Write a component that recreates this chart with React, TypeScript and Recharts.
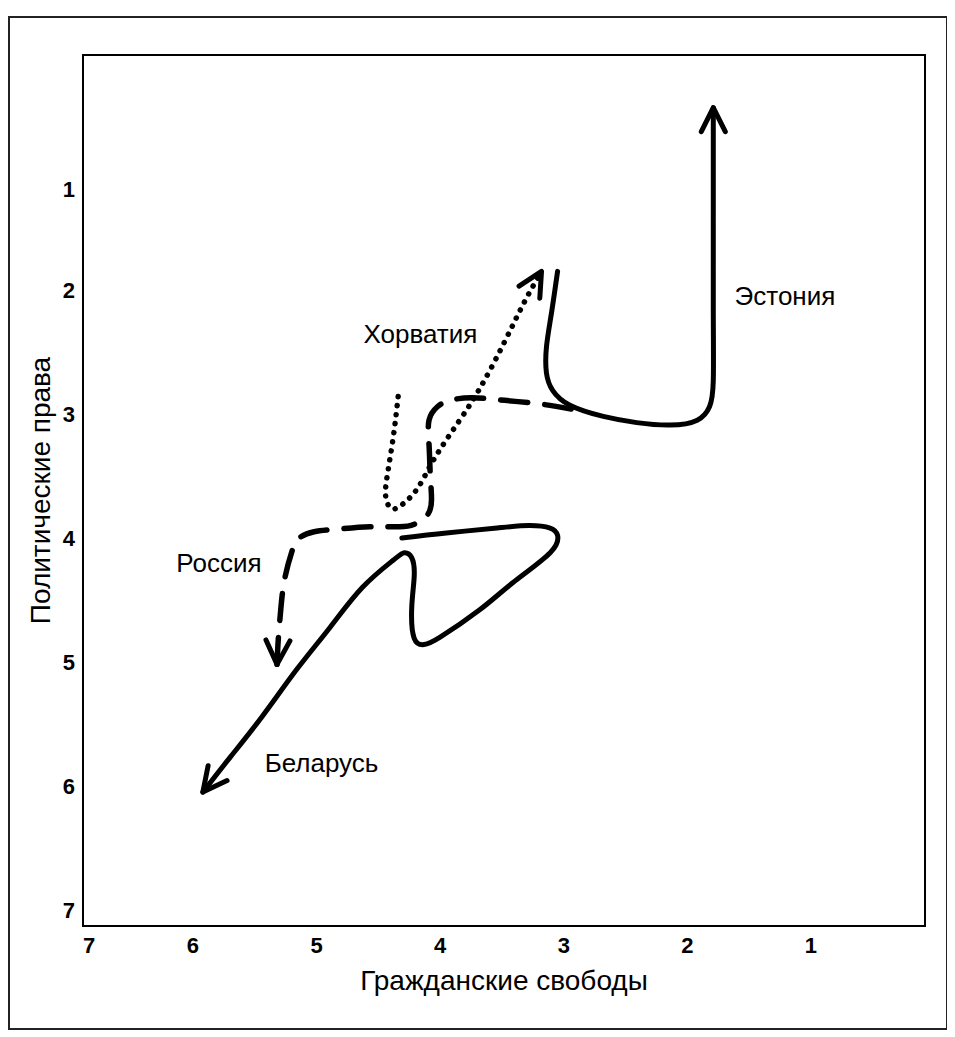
import { LineChart, Line, XAxis, YAxis, ReferenceArea, ReferenceDot } from 'recharts'

// Freedom House style trajectories: x = civil liberties, y = political rights (both reversed)
const estonia = [
  { x: 3.05, y: 1.85 }, { x: 3.1, y: 2.19 }, { x: 3.14, y: 2.46 }, { x: 3.14, y: 2.67 },
  { x: 3.09, y: 2.81 }, { x: 2.95, y: 2.93 }, { x: 2.68, y: 3.02 }, { x: 2.41, y: 3.07 },
  { x: 2.14, y: 3.09 }, { x: 1.92, y: 3.05 }, { x: 1.82, y: 2.94 }, { x: 1.79, y: 2.73 },
  { x: 1.79, y: 2.19 }, { x: 1.79, y: 1.38 }, { x: 1.79, y: 0.53 },
]

const croatia = [
  { x: 4.34, y: 2.86 }, { x: 4.38, y: 3.19 }, { x: 4.43, y: 3.51 }, { x: 4.44, y: 3.67 },
  { x: 4.4, y: 3.76 }, { x: 4.32, y: 3.74 }, { x: 4.19, y: 3.61 }, { x: 4.07, y: 3.4 },
  { x: 3.91, y: 3.15 }, { x: 3.7, y: 2.83 }, { x: 3.49, y: 2.44 }, { x: 3.32, y: 2.1 },
  { x: 3.18, y: 1.85 },
]

const russia = [
  { x: 2.94, y: 2.96 }, { x: 3.19, y: 2.92 }, { x: 3.48, y: 2.89 }, { x: 3.74, y: 2.87 },
  { x: 3.92, y: 2.89 }, { x: 4.02, y: 2.94 }, { x: 4.09, y: 3.05 }, { x: 4.09, y: 3.25 },
  { x: 4.08, y: 3.49 }, { x: 4.07, y: 3.68 }, { x: 4.1, y: 3.81 }, { x: 4.21, y: 3.89 },
  { x: 4.33, y: 3.91 }, { x: 4.57, y: 3.91 }, { x: 4.84, y: 3.93 }, { x: 5.02, y: 3.95 },
  { x: 5.14, y: 4.0 }, { x: 5.2, y: 4.11 }, { x: 5.26, y: 4.34 }, { x: 5.29, y: 4.58 },
  { x: 5.31, y: 4.82 }, { x: 5.32, y: 5.02 },
]

const belarus = [
  { x: 4.31, y: 4.0 }, { x: 3.95, y: 3.96 }, { x: 3.54, y: 3.92 }, { x: 3.28, y: 3.9 },
  { x: 3.11, y: 3.92 }, { x: 3.05, y: 3.98 }, { x: 3.11, y: 4.12 }, { x: 3.41, y: 4.36 },
  { x: 3.68, y: 4.58 }, { x: 4.0, y: 4.8 }, { x: 4.13, y: 4.86 }, { x: 4.21, y: 4.81 },
  { x: 4.23, y: 4.56 }, { x: 4.21, y: 4.31 }, { x: 4.23, y: 4.16 }, { x: 4.29, y: 4.12 },
  { x: 4.38, y: 4.18 }, { x: 4.63, y: 4.4 }, { x: 4.89, y: 4.72 }, { x: 5.16, y: 5.06 },
  { x: 5.44, y: 5.44 }, { x: 5.7, y: 5.77 }, { x: 5.92, y: 6.05 },
]

const countryLabels = [
  { name: 'Эстония', x: 1.21, y: 2.05 },
  { name: 'Хорватия', x: 4.16, y: 2.35 },
  { name: 'Россия', x: 5.79, y: 4.2 },
  { name: 'Беларусь', x: 4.96, y: 5.81 },
]

// the scan puts the end labels "7" (x) and "1" (y) off the regular grid
const xTicks = [6.84, 6, 5, 4, 3, 2, 1]
const xTickLabels = ['7', '6', '5', '4', '3', '2', '1']
const yTicks = [1.19, 2, 3, 4, 5, 6, 7]
const yTickLabels = ['1', '2', '3', '4', '5', '6', '7']

const xDomain = [0.077, 6.89]
const yDomain = [0.105, 7.13]

const font = '"Liberation Sans", Arial, sans-serif'

const YTitle = ({ viewBox }) => {
  const cx = viewBox.x + 32
  const cy = viewBox.y + viewBox.height / 2
  return (
    <text
      x={cx}
      y={cy}
      transform={`rotate(-90 ${cx} ${cy})`}
      textAnchor="middle"
      dominantBaseline="central"
      fontSize={28}
      fill="#000"
    >
      Политические права
    </text>
  )
}

const XTitle = ({ viewBox }) => (
  <text
    x={viewBox.x + viewBox.width / 2}
    y={viewBox.y + 64}
    textAnchor="middle"
    fontSize={28}
    fill="#000"
  >
    Гражданские свободы
  </text>
)

export default function App() {
  return (
    <div style={{ position: 'relative', width: 940, height: 1022, fontFamily: font }}>
      <div
        style={{
          position: 'absolute',
          left: 0,
          top: 8,
          width: 936,
          height: 1010,
          border: '2px solid #222',
        }}
      />
      <LineChart
        width={940}
        height={1022}
        margin={{ top: 47, right: 23, bottom: 64, left: 0 }}
        style={{ position: 'absolute', left: 0, top: 0 }}
      >
        <defs>
          <marker
            id="arrowHead"
            viewBox="-28 -16 32 32"
            refX={0}
            refY={0}
            markerWidth={32}
            markerHeight={32}
            markerUnits="userSpaceOnUse"
            orient="auto"
          >
            <path
              d="M -24 -12 L 0 0 L -24 12"
              fill="none"
              stroke="#000"
              strokeWidth={5}
              strokeLinecap="round"
              strokeLinejoin="round"
            />
          </marker>
        </defs>
        <XAxis
          type="number"
          dataKey="x"
          domain={xDomain}
          allowDataOverflow
          reversed
          ticks={xTicks}
          tickFormatter={(v, i) => xTickLabels[i]}
          interval={0}
          axisLine={false}
          tickLine={false}
          tickSize={0}
          tickMargin={11}
          height={40}
          tick={{ fill: '#000', fontSize: 22, fontWeight: 'bold' }}
          label={{ content: XTitle }}
        />
        <YAxis
          type="number"
          dataKey="y"
          domain={yDomain}
          allowDataOverflow
          reversed
          ticks={yTicks}
          tickFormatter={(v, i) => yTickLabels[i]}
          interval={0}
          axisLine={false}
          tickLine={false}
          tickSize={0}
          tickMargin={8}
          width={75}
          tick={{ fill: '#000', fontSize: 22, fontWeight: 'bold' }}
          label={{ content: YTitle }}
        />
        <ReferenceArea
          x1={xDomain[1]}
          x2={xDomain[0]}
          y1={yDomain[0]}
          y2={yDomain[1]}
          fill="none"
          fillOpacity={0}
          stroke="#000"
          strokeWidth={2}
        />
        <Line
          data={estonia}
          dataKey="y"
          type="natural"
          stroke="#000"
          strokeWidth={5}
          strokeLinecap="round"
          dot={false}
          activeDot={false}
          markerEnd="url(#arrowHead)"
          isAnimationActive={false}
        />
        <Line
          data={belarus}
          dataKey="y"
          type="natural"
          stroke="#000"
          strokeWidth={5}
          strokeLinecap="round"
          dot={false}
          activeDot={false}
          markerEnd="url(#arrowHead)"
          isAnimationActive={false}
        />
        <Line
          data={russia}
          dataKey="y"
          type="natural"
          stroke="#000"
          strokeWidth={5.5}
          strokeDasharray="27 17"
          strokeLinecap="round"
          dot={false}
          activeDot={false}
          markerEnd="url(#arrowHead)"
          isAnimationActive={false}
        />
        <Line
          data={croatia}
          dataKey="y"
          type="natural"
          stroke="#000"
          strokeWidth={5.5}
          strokeDasharray="0.1 9"
          strokeLinecap="round"
          dot={false}
          activeDot={false}
          markerEnd="url(#arrowHead)"
          isAnimationActive={false}
        />
        {countryLabels.map((c) => (
          <ReferenceDot
            key={c.name}
            x={c.x}
            y={c.y}
            r={0}
            fill="none"
            stroke="none"
            label={{ value: c.name, position: 'center', fill: '#000', fontSize: 26 }}
          />
        ))}
      </LineChart>
    </div>
  )
}
